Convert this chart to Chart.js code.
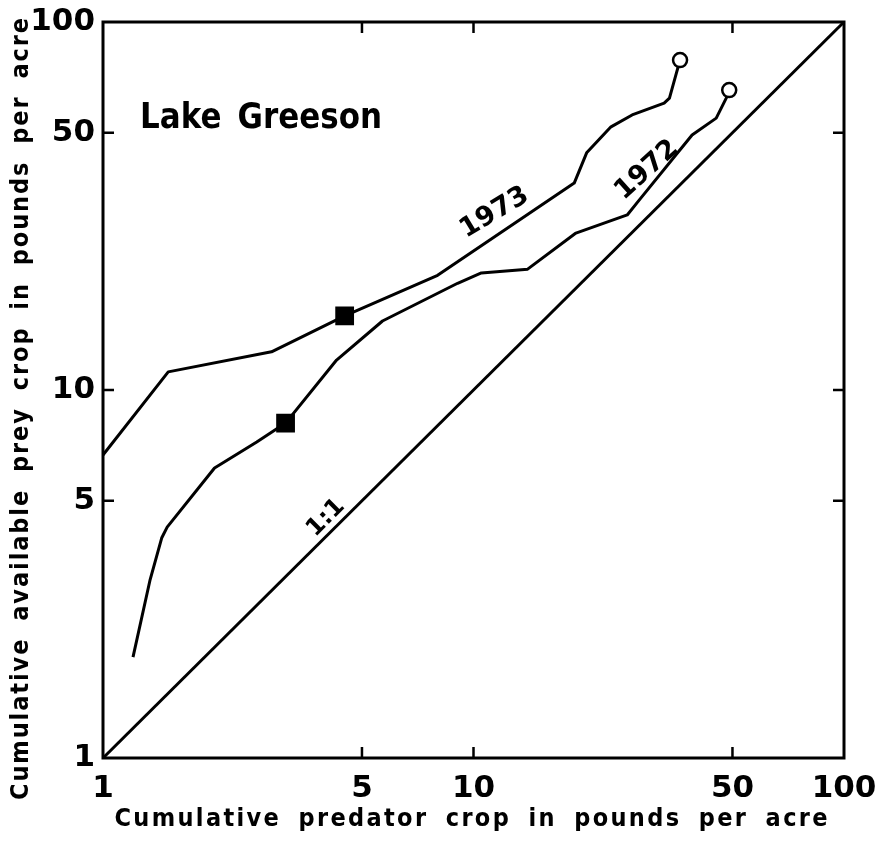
<!DOCTYPE html>
<html>
<head>
<meta charset="utf-8">
<script src="https://cdn.jsdelivr.net/npm/chart.js@4.4.0/dist/chart.umd.min.js"></script>
<style>
  html, body { margin: 0; padding: 0; background: #fff; }
  #wrap { width: 884px; height: 844px; }
</style>
</head>
<body>
<div id="wrap"><canvas id="greeson"></canvas></div>
<script>
// tick values used on both log axes
var tickVals = [1, 5, 10, 50, 100];

// 1973 season (predator crop, prey crop)
var x1973 = [1.0, 1.50, 2.85, 4.49, 8.0, 18.7, 20.2, 23.5, 26.8, 32.7, 33.8, 35.3, 36.1];
var y1973 = [6.66, 11.2, 12.7, 15.9, 20.5, 36.5, 44.1, 51.9, 55.9, 60.2, 62.1, 72.7, 78.8];

// 1972 season
var x1972 = [1.205, 1.34, 1.44, 1.49, 2.00, 2.60, 3.11, 4.27, 5.68, 9.06, 10.5, 14.0, 18.9, 26.0, 28.0, 38.9, 45.2, 48.1, 49.0];
var y1972 = [1.88, 3.05, 3.96, 4.24, 6.14, 7.22, 8.13, 12.06, 15.4, 19.5, 20.8, 21.3, 26.7, 29.9, 32.8, 49.3, 54.8, 62.1, 65.3];

// 1:1 reference line
var xOne = [1, 100];
var yOne = [1, 100];

var FONT = '"DejaVu Sans", "Liberation Sans", sans-serif';

function pts(xs, ys) {
  return xs.map(function (x, i) { return { x: x, y: ys[i] }; });
}

// square marker at index sq, open circle at the end of the line
function markStyle(n, sq) {
  var style = [], radius = [], fill = [];
  for (var i = 0; i < n; i++) {
    if (i === sq) { style.push('rect'); radius.push(11.5); fill.push('#000'); }
    else if (i === n - 1) { style.push('circle'); radius.push(7); fill.push('#fff'); }
    else { style.push('circle'); radius.push(0); fill.push('#000'); }
  }
  return { style: style, radius: radius, fill: fill };
}

function lineSet(label, xs, ys, sq) {
  var m = markStyle(xs.length, sq);
  return {
    label: label,
    data: pts(xs, ys),
    showLine: true,
    borderColor: '#000',
    borderWidth: 3,
    borderJoinStyle: 'round',
    tension: 0,
    pointStyle: m.style,
    pointRadius: m.radius,
    pointHoverRadius: m.radius,
    pointBackgroundColor: m.fill,
    pointBorderColor: '#000',
    pointBorderWidth: 2.5
  };
}

// draw text centred at x,y; optional target width (fitted with letter spacing),
// word gap and horizontal squeeze
function spacedText(ctx, text, x, y, angle, font, width, wordGap, sx) {
  sx = sx || 1;
  ctx.save();
  ctx.translate(x, y);
  ctx.rotate(angle * Math.PI / 180);
  ctx.scale(sx, 1);
  ctx.font = font;
  ctx.fillStyle = '#000';
  ctx.textAlign = 'left';
  ctx.textBaseline = 'middle';
  ctx.letterSpacing = '0px';
  ctx.wordSpacing = (wordGap || 0) + 'px';
  var w = ctx.measureText(text).width;
  var sp = width ? (width / sx - w) / (text.length - 1) : 0;
  ctx.letterSpacing = sp + 'px';
  var total = w + sp * (text.length - 1);
  ctx.fillText(text, -total / 2, 0);
  ctx.restore();
}

var decor = {
  id: 'decor',
  afterDraw: function (chart) {
    var ctx = chart.ctx, a = chart.chartArea;
    var xs = chart.scales.x, ys = chart.scales.y;
    ctx.save();
    ctx.strokeStyle = '#000';
    ctx.lineWidth = 3;
    ctx.strokeRect(a.left, a.top, a.right - a.left, a.bottom - a.top);
    // inward tick marks on all four sides
    ctx.lineWidth = 2.5;
    ctx.beginPath();
    tickVals.slice(1, -1).forEach(function (v) {
      var px = xs.getPixelForValue(v), py = ys.getPixelForValue(v);
      ctx.moveTo(px, a.bottom); ctx.lineTo(px, a.bottom - 11);
      ctx.moveTo(px, a.top); ctx.lineTo(px, a.top + 11);
      ctx.moveTo(a.left, py); ctx.lineTo(a.left + 11, py);
      ctx.moveTo(a.right, py); ctx.lineTo(a.right - 11, py);
    });
    ctx.stroke();
    ctx.restore();

    // in-plot labels anchored to data coordinates
    spacedText(ctx, 'Lake Greeson', xs.getPixelForValue(2.67), ys.getPixelForValue(54.5), 0, 'bold 36px ' + FONT, 242, 6, 0.86);
    spacedText(ctx, '1973', xs.getPixelForValue(11.4), ys.getPixelForValue(30.3), -31, 'bold 27px ' + FONT, 0);
    spacedText(ctx, '1972', xs.getPixelForValue(29.4), ys.getPixelForValue(39.6), -42, 'bold 27px ' + FONT, 0);
    spacedText(ctx, '1:1', xs.getPixelForValue(4.0), ys.getPixelForValue(4.49), -45, 'bold 24px ' + FONT, 0);

    // axis titles
    spacedText(ctx, 'Cumulative predator crop in pounds per acre',
      471, chart.height - 25, 0, 'bold 25px ' + FONT, 713, 8, 0.9);
    spacedText(ctx, 'Cumulative available prey crop in pounds per acre',
      21, 409, -90, 'bold 25px ' + FONT, 782, 8, 0.9);
  }
};

function logAxis(pad, fit) {
  return {
    type: 'logarithmic',
    min: 1,
    max: 100,
    afterBuildTicks: function (s) {
      s.ticks = tickVals.map(function (v) { return { value: v }; });
    },
    afterFit: fit,
    border: { display: false },
    grid: { display: false, drawTicks: false },
    ticks: {
      autoSkip: false,
      maxRotation: 0,
      padding: pad,
      color: '#000',
      font: { family: FONT, size: 31, weight: 'bold' },
      callback: function (v) { return String(v); }
    }
  };
}

var ctx = document.getElementById('greeson').getContext('2d');
var chart = new Chart(ctx, {
  type: 'scatter',
  data: {
    datasets: [
      lineSet('1973', x1973, y1973, 3),
      lineSet('1972', x1972, y1972, 6),
      {
        label: '1:1',
        data: pts(xOne, yOne),
        showLine: true,
        borderColor: '#000',
        borderWidth: 3,
        pointRadius: 0,
        tension: 0
      }
    ]
  },
  options: {
    responsive: true,
    maintainAspectRatio: false,
    animation: false,
    devicePixelRatio: 1,
    layout: { padding: { top: 22, right: 40, left: 0, bottom: 0 } },
    plugins: {
      legend: { display: false },
      tooltip: { enabled: false }
    },
    scales: {
      x: logAxis(12, function (s) {
        s.height = 86;
        s.paddingLeft = 0; s.paddingRight = 0;
      }),
      y: logAxis(8, function (s) {
        s.width = 103;
        s.paddingTop = 0; s.paddingBottom = 0;
      })
    }
  },
  plugins: [decor]
});
</script>
</body>
</html>
